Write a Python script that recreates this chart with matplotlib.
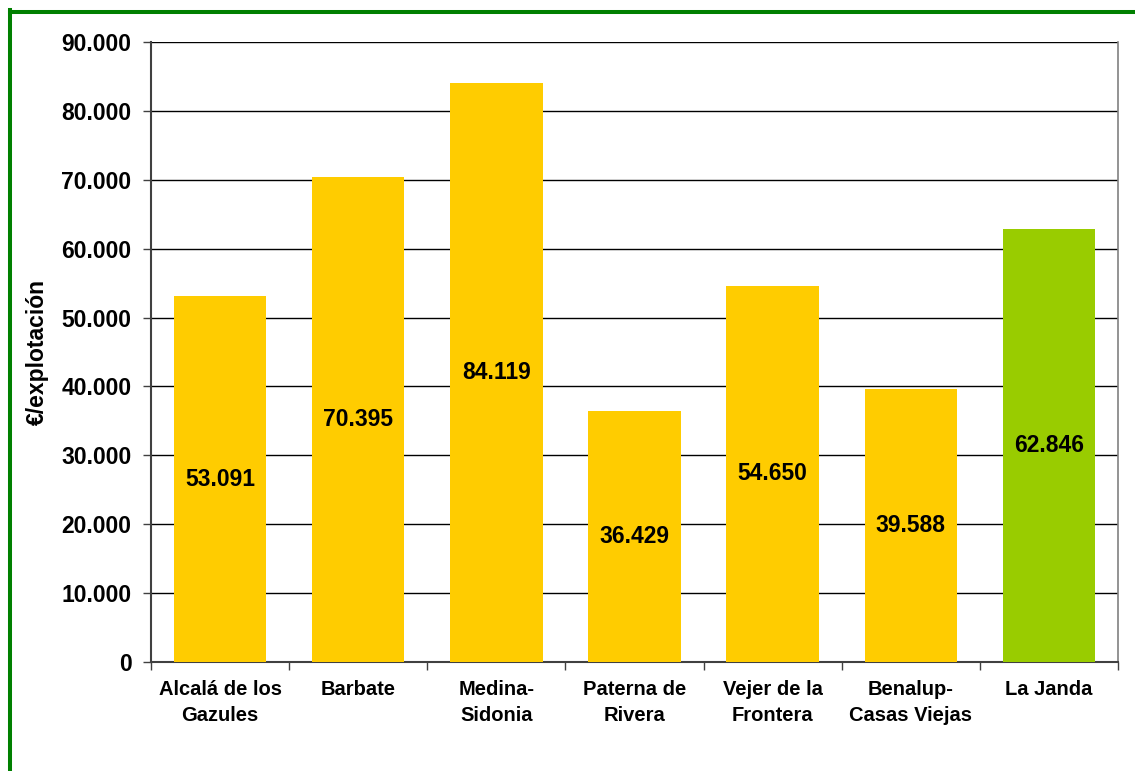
import matplotlib
matplotlib.use("Agg")
import matplotlib.pyplot as plt
from matplotlib.lines import Line2D
from matplotlib.ticker import FuncFormatter, FixedLocator

categories = ["Alcalá de los\nGazules", "Barbate", "Medina-\nSidonia", "Paterna de\nRivera",
              "Vejer de la\nFrontera", "Benalup-\nCasas Viejas", "La Janda"]
values = [53091, 70395, 84119, 36429, 54650, 39588, 62846]
bar_colors = ["#FFCC00"] * 6 + ["#99CC00"]
yticks = list(range(0, 90001, 10000))

def fmt(v):
    return f"{int(round(v)):,}".replace(",", ".")

plt.rcParams['font.family'] = ['Liberation Sans', 'DejaVu Sans']
plt.rcParams['font.weight'] = 'bold'

fig = plt.figure(figsize=(11.35, 7.71), dpi=100)
W, H = 1135, 771
ax = fig.add_axes([151 / W, 1 - 662 / H, (1118 - 151) / W, (662 - 42) / H])

x = list(range(len(categories)))
ax.bar(x, values, width=0.67, color=bar_colors, zorder=3)
for xi, v in zip(x, values):
    ax.text(xi, v / 2, fmt(v), ha='center', va='center', fontsize=16.5,
            fontweight='bold', color='black', zorder=4)

ax.set_xlim(-0.5, len(categories) - 0.5)
ax.set_ylim(0, 90000)
ax.set_yticks(yticks)
ax.yaxis.set_major_formatter(FuncFormatter(lambda v, p: fmt(v)))
ax.yaxis.grid(True, color='black', linewidth=1.0, zorder=0)
ax.tick_params(axis='y', length=6, width=1, color='#404040', pad=8, labelsize=16.5)

ax.xaxis.set_major_locator(FixedLocator([i - 0.5 for i in range(len(categories) + 1)]))
ax.xaxis.set_minor_locator(FixedLocator(x))
ax.set_xticklabels([], minor=False)
ax.set_xticklabels(categories, minor=True, fontsize=14.5, fontweight='bold', linespacing=1.45)
ax.tick_params(axis='x', which='major', length=6, width=1, color='#404040')
ax.tick_params(axis='x', which='minor', length=0, pad=13)

ax.set_ylabel("€/explotación", fontsize=16.5, fontweight='bold')
ax.yaxis.set_label_coords((49 - 151) / (1118 - 151), 0.5)

for s in ['left', 'bottom']:
    ax.spines[s].set_color('#404040')
    ax.spines[s].set_linewidth(1.5)
ax.spines['right'].set_color('#808080')
ax.spines['right'].set_linewidth(1.2)
ax.spines['top'].set_visible(False)

# green frame (left & top)
fig.add_artist(Line2D([9.5 / W, 9.5 / W], [0, 1 - 10 / H], transform=fig.transFigure,
                      color='#008000', linewidth=2.9, solid_capstyle='projecting'))
fig.add_artist(Line2D([9.5 / W, 1], [1 - 12 / H, 1 - 12 / H], transform=fig.transFigure,
                      color='#008000', linewidth=2.9, solid_capstyle='projecting'))

fig.savefig("out.png", dpi=100)
